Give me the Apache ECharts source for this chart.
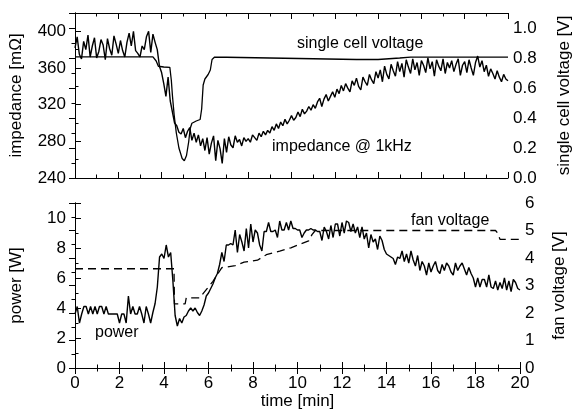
<!DOCTYPE html>
<html>
<head>
<meta charset="utf-8">
<script src="https://cdn.jsdelivr.net/npm/echarts@6/dist/echarts.min.js"></script>
<style>
  html, body { margin: 0; padding: 0; background: #fff; }
  #chart { width: 581px; height: 416px; }
</style>
</head>
<body>
<div id="chart"></div>
<script>
// samples every 0.1 min, 0..20 min
const STEP = 0.1;

const impedance = [
  382, 394, 375, 370, 389, 380, 396, 372, 384, 393,
  371, 378, 391, 385, 369, 392, 381, 374, 395, 386,
  376, 390, 379, 372, 388, 398, 384, 400, 379, 376,
  372, 384, 380, 394, 400, 377, 397, 388, 380, 362,
  355, 343, 329, 350, 324, 312, 300, 297, 290, 288,
  294, 284, 291, 295, 281, 289, 279, 287, 275, 283,
  270, 284, 266, 278, 286, 259, 281, 272, 256, 283,
  268, 285, 276, 273, 286, 279, 282, 275, 284, 280,
  283, 279, 287, 284, 281, 289, 285, 291, 287, 292,
  289, 296, 292, 299, 294, 301, 297, 304, 299, 303,
  308, 303, 306, 312, 307, 315, 310, 313, 318, 314,
  320, 316, 323, 327, 318, 326, 331, 324, 329, 334,
  328, 337, 332, 341, 335, 343, 338, 334, 346, 341,
  349, 340, 336, 350, 345, 341, 353, 347, 343, 356,
  349, 358, 345, 362, 353, 348, 364, 357, 351, 367,
  356, 365, 350, 369, 361, 354, 370, 358, 366, 352,
  368, 363, 355, 371, 359, 367, 351, 369, 362, 357,
  370, 354, 366, 360, 368, 356, 364, 370, 352, 363,
  367, 355, 369, 360, 352, 366, 373, 361, 368, 356,
  363, 351, 359, 354, 348, 357, 350, 345, 353, 348,
  346
];

const power = [
  3.6, 4.1, 3.0, 3.6, 4.1, 4.1, 3.6, 4.1, 3.6, 4.1,
  3.6, 4.1, 4.1, 3.6, 4.1, 3.6, 3.6, 3.6, 3.6, 3.6,
  3.0, 3.6, 3.6, 3.0, 4.8, 3.6, 4.1, 3.6, 3.6, 4.1,
  3.6, 3.0, 4.1, 3.6, 3.0, 3.7, 4.3, 5.4, 7.4, 7.6,
  7.3, 8.2, 7.4, 7.7, 5.8, 3.5, 2.8, 3.3, 3.0, 3.4,
  3.5, 3.8, 4.0, 3.8, 4.0, 3.7, 3.5, 3.8, 4.2, 4.8,
  5.0, 5.3, 5.6, 6.0, 6.3, 6.9, 7.7, 7.1, 8.2, 8.2,
  8.3, 8.2, 9.2, 7.7, 8.9, 8.4, 7.8, 9.3, 8.0, 9.6,
  8.4, 9.2, 9.0, 8.2, 7.8, 9.1, 9.1, 9.7, 9.1, 9.1,
  9.2, 8.7, 9.8, 9.2, 9.2, 9.7, 9.2, 9.8, 9.3, 9.3,
  9.2, 9.2, 8.7, 9.0, 9.2, 9.2, 9.3, 9.2, 9.2, 9.1,
  9.1, 8.5, 9.4, 9.1, 8.6, 9.5, 8.7, 9.6, 9.6, 8.8,
  9.7, 9.0, 9.8, 9.7, 9.1, 9.6, 9.0, 9.4, 8.7, 9.4,
  8.6, 9.0, 8.0, 8.9, 8.4, 8.6, 7.9, 8.8, 8.5, 7.9,
  7.6, 7.5, 7.4, 7.3, 6.9, 7.4, 7.3, 7.8, 7.1, 7.6,
  7.0, 7.8, 7.2, 6.8, 7.5, 6.5, 7.1, 6.8, 6.2, 7.0,
  6.4, 6.8, 7.1, 6.5, 6.3, 6.9, 6.5, 7.0, 6.8, 6.4,
  6.2, 7.0, 6.5, 6.8, 7.0, 6.6, 6.2, 6.7, 6.3, 6.0,
  5.4, 6.0, 5.4, 5.9, 5.9, 5.4, 6.2, 5.4, 5.3, 5.8,
  5.2, 5.7, 5.3, 6.0, 5.2, 5.8, 5.1, 5.9, 5.7, 5.3,
  5.2
];

const cellTimes = [0, 3.6, 3.75, 3.85, 4.1, 4.38, 4.45, 4.5, 4.58, 4.68, 4.8, 4.95, 5.05, 5.15, 5.25,
  5.32, 5.4, 5.6, 5.78, 5.85, 5.92, 6.0, 6.15, 6.25, 6.33, 6.45, 7, 9, 11, 13, 14, 15, 15.5, 20];
const cellVoltage = [0.808, 0.808, 0.78, 0.745, 0.74, 0.738, 0.65, 0.55, 0.42, 0.3, 0.2, 0.13, 0.115, 0.15, 0.24,
  0.33, 0.365, 0.38, 0.39, 0.46, 0.62, 0.66, 0.69, 0.72, 0.79, 0.806, 0.805, 0.8, 0.795, 0.79, 0.79, 0.8, 0.806, 0.806];

const fanTimes = [0, 4.45, 4.47, 4.95, 5.0, 5.6, 5.8, 6.0, 6.2, 6.4, 6.6, 7.2, 7.6, 8.2, 8.6, 9.2, 9.7,
  10.1, 10.5, 10.65, 10.8, 18.9, 19.0, 19.1, 20];
const fanVoltage = [3.61, 3.61, 2.33, 2.33, 2.55, 2.55, 2.75, 2.95, 3.15, 3.4, 3.65, 3.72, 3.85, 3.92, 4.12, 4.25, 4.37,
  4.5, 4.62, 4.85, 5.0, 5.0, 4.9, 4.68, 4.68];

const FONT = "'Liberation Sans', Arial, sans-serif";
const chart = echarts.init(document.getElementById('chart'), null, { renderer: 'canvas' });

const line = { color: '#000', width: 1 };
const tick = { show: true, inside: true, length: 6, lineStyle: line };
const minor = (n) => ({ show: true, splitNumber: n, length: 3.5, lineStyle: line });
const label = { color: '#000', fontSize: 17, fontFamily: FONT };
const nameStyle = { color: '#000', fontSize: 17, fontFamily: FONT };

function xAxis(grid, pos, showLabels) {
  return {
    type: 'value', gridIndex: grid, position: pos, min: 0, max: 20, interval: 2,
    axisLine: { show: true, lineStyle: line },
    axisTick: tick, minorTick: minor(2), splitLine: { show: false },
    axisLabel: Object.assign({ show: showLabels, margin: 7 }, label),
  };
}

const toPairs = (vals) => vals.map((v, i) => [+(i * STEP).toFixed(1), v]);
const zip = (ts, vs) => ts.map((t, i) => [t, vs[i]]);

chart.setOption({
  animation: false,
  backgroundColor: '#fff',
  grid: [
    { left: 75, right: 61, top: 13, height: 165 },
    { left: 75, right: 61, top: 203, height: 165 },
  ],
  xAxis: [
    xAxis(0, 'bottom', false),
    xAxis(0, 'top', false),
    Object.assign(xAxis(1, 'bottom', true), {
      name: 'time [min]', nameLocation: 'middle', nameGap: 25, nameTextStyle: nameStyle,
    }),
    xAxis(1, 'top', false),
  ],
  yAxis: [
    {
      type: 'value', gridIndex: 0, position: 'left', min: 240, max: 420, interval: 40,
      axisLine: { show: true, lineStyle: line }, axisTick: tick, minorTick: minor(2),
      splitLine: { show: false },
      axisLabel: Object.assign({ margin: 9, showMaxLabel: false }, label),
      name: 'impedance [mΩ]', nameLocation: 'middle', nameGap: 50, nameTextStyle: nameStyle,
    },
    {
      type: 'value', gridIndex: 0, position: 'right', min: 0, max: 1.1, interval: 0.2,
      axisLine: { show: true, lineStyle: line }, axisTick: tick, minorTick: minor(2),
      splitLine: { show: false },
      axisLabel: Object.assign({ margin: 5, showMaxLabel: false, formatter: (v) => v.toFixed(1) }, label),
      name: 'single cell voltage [V]', nameLocation: 'middle', nameGap: 48, nameTextStyle: nameStyle,
    },
    {
      type: 'value', gridIndex: 1, position: 'left', min: 0, max: 11, interval: 2,
      axisLine: { show: true, lineStyle: line }, axisTick: tick, minorTick: minor(2),
      splitLine: { show: false },
      axisLabel: Object.assign({ margin: 9, showMaxLabel: false }, label),
      name: 'power [W]', nameLocation: 'middle', nameGap: 50, nameTextStyle: nameStyle,
    },
    {
      type: 'value', gridIndex: 1, position: 'right', min: 0, max: 6, interval: 1,
      axisLine: { show: true, lineStyle: line }, axisTick: tick, minorTick: minor(2),
      splitLine: { show: false },
      axisLabel: Object.assign({ margin: 5 }, label),
      name: 'fan voltage [V]', nameLocation: 'middle', nameGap: 31, nameTextStyle: nameStyle,
    },
  ],
  series: [
    {
      name: 'impedance', type: 'line', xAxisIndex: 0, yAxisIndex: 0,
      data: toPairs(impedance), showSymbol: false,
      lineStyle: { color: '#000', width: 1.4 },
    },
    {
      name: 'single cell voltage', type: 'line', xAxisIndex: 0, yAxisIndex: 1,
      data: zip(cellTimes, cellVoltage), showSymbol: false,
      lineStyle: { color: '#000', width: 1.3 },
    },
    {
      name: 'power', type: 'line', xAxisIndex: 2, yAxisIndex: 2,
      data: toPairs(power), showSymbol: false,
      lineStyle: { color: '#000', width: 1.4 },
    },
    {
      name: 'fan voltage', type: 'line', xAxisIndex: 2, yAxisIndex: 3,
      data: zip(fanTimes, fanVoltage), showSymbol: false,
      lineStyle: { color: '#000', width: 1.3, type: [8, 5] },
    },
  ],
  graphic: [
    { type: 'text', left: 297, top: 36, style: { text: 'single cell voltage', font: '16px ' + FONT, fill: '#000' } },
    { type: 'text', left: 272, top: 139, style: { text: 'impedance @ 1kHz', font: '16px ' + FONT, fill: '#000' } },
    { type: 'text', left: 411, top: 213, style: { text: 'fan voltage', font: '16px ' + FONT, fill: '#000' } },
    { type: 'text', left: 95, top: 325, style: { text: 'power', font: '16px ' + FONT, fill: '#000' } },
  ],
});
</script>
</body>
</html>
